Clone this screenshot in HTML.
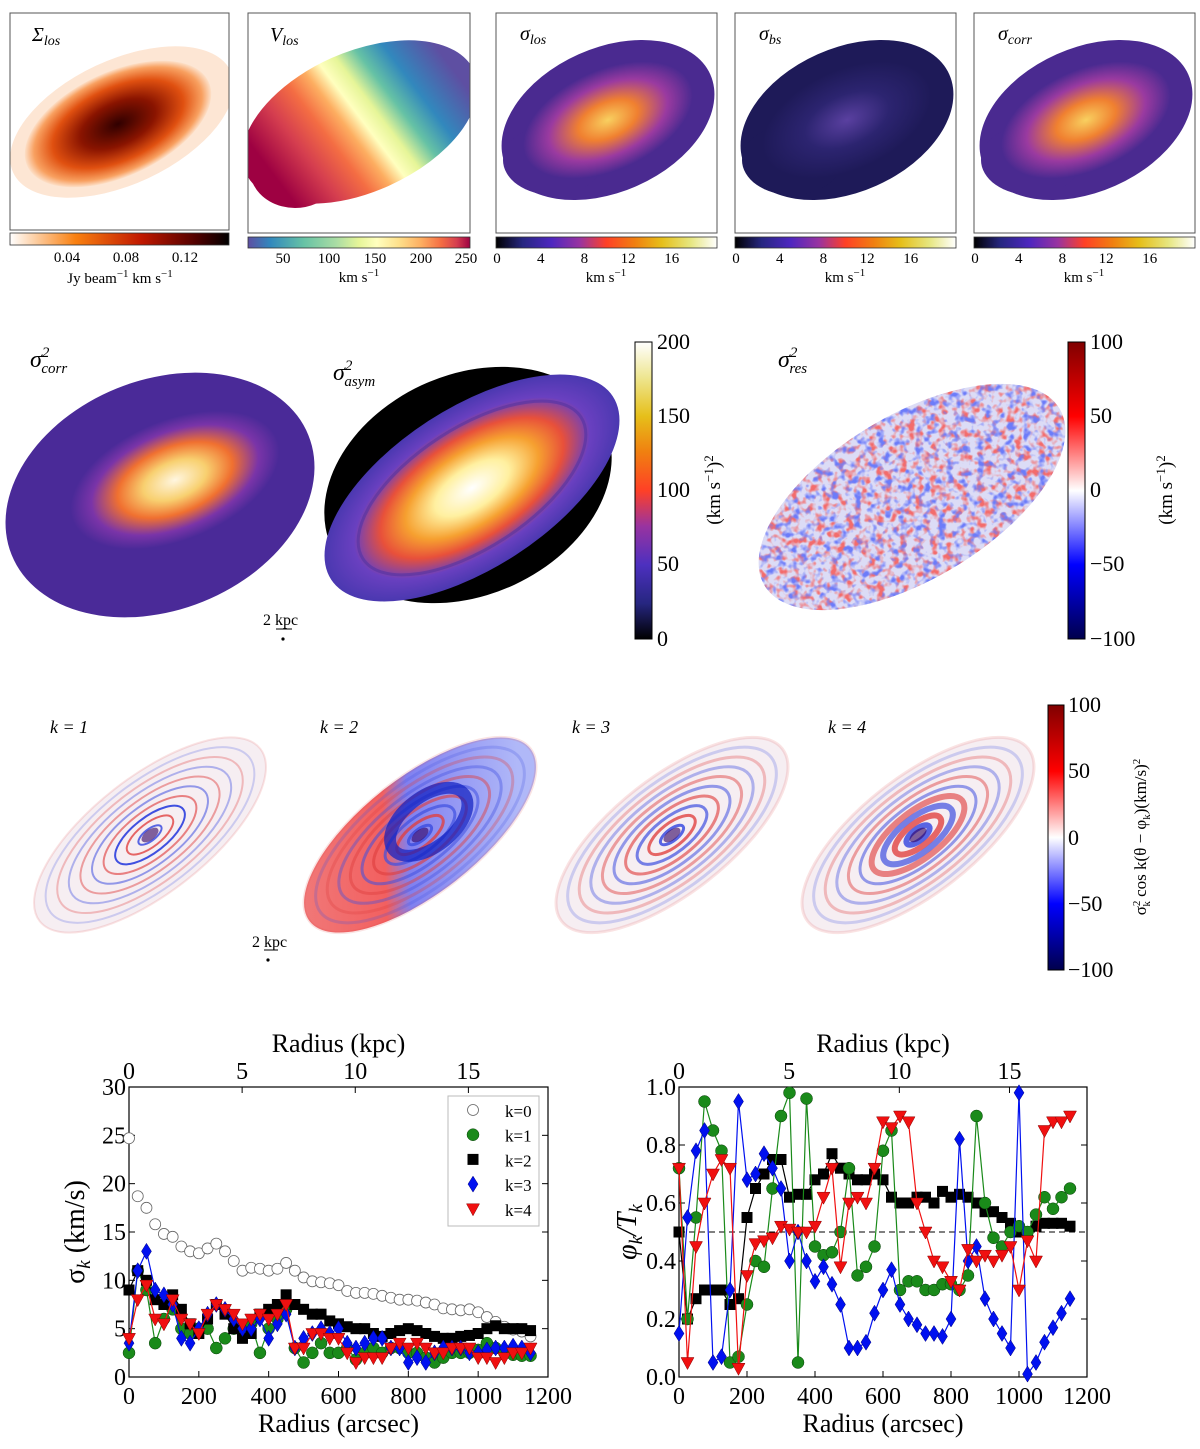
<!DOCTYPE html>
<html><head><meta charset="utf-8"><title>Velocity dispersion decomposition</title>
<style>
body{margin:0;background:#fff;}
svg{display:block;font-family:"Liberation Serif",serif;}
</style></head>
<body>
<svg id="fig" width="1200" height="1449" viewBox="0 0 1200 1449" xmlns="http://www.w3.org/2000/svg">
<defs>
<linearGradient id="gSig" x1="0" x2="1" y1="0" y2="0"><stop offset="0" stop-color="#fff"/><stop offset="0.3" stop-color="#f98010"/><stop offset="0.6" stop-color="#c01800"/><stop offset="0.85" stop-color="#500000"/><stop offset="1" stop-color="#000"/></linearGradient>
<linearGradient id="gSpec" x1="0" x2="1" y1="0" y2="0"><stop offset="0" stop-color="#5e4fa2"/><stop offset="0.1" stop-color="#3288bd"/><stop offset="0.25" stop-color="#66c2a5"/><stop offset="0.4" stop-color="#abdda4"/><stop offset="0.5" stop-color="#e6f598"/><stop offset="0.58" stop-color="#ffffbf"/><stop offset="0.68" stop-color="#fee08b"/><stop offset="0.78" stop-color="#fdae61"/><stop offset="0.87" stop-color="#f46d43"/><stop offset="0.94" stop-color="#d53e4f"/><stop offset="1" stop-color="#9e0142"/></linearGradient>
<linearGradient id="gCMR" x1="0" x2="1" y1="0" y2="0"><stop offset="0" stop-color="#000"/><stop offset="0.12" stop-color="#262680"/><stop offset="0.25" stop-color="#4d26bf"/><stop offset="0.38" stop-color="#9933a0"/><stop offset="0.5" stop-color="#ff4026"/><stop offset="0.63" stop-color="#f08010"/><stop offset="0.75" stop-color="#e6bf1a"/><stop offset="0.88" stop-color="#e6e680"/><stop offset="1" stop-color="#fff"/></linearGradient>
<linearGradient id="gCMRv" x1="0" x2="0" y1="1" y2="0"><stop offset="0" stop-color="#000"/><stop offset="0.12" stop-color="#262680"/><stop offset="0.25" stop-color="#4d30bf"/><stop offset="0.38" stop-color="#9933a0"/><stop offset="0.5" stop-color="#ff4026"/><stop offset="0.63" stop-color="#f08010"/><stop offset="0.75" stop-color="#e6bf1a"/><stop offset="0.88" stop-color="#eee690"/><stop offset="1" stop-color="#fff"/></linearGradient>
<linearGradient id="gSeis" x1="0" x2="0" y1="1" y2="0"><stop offset="0" stop-color="#00004c"/><stop offset="0.25" stop-color="#0000ff"/><stop offset="0.5" stop-color="#ffffff"/><stop offset="0.75" stop-color="#ff0000"/><stop offset="1" stop-color="#800000"/></linearGradient>
<linearGradient id="gVel" gradientUnits="userSpaceOnUse" x1="285" y1="190" x2="450" y2="65"><stop offset="0" stop-color="#9e0142"/><stop offset="0.18" stop-color="#d53e4f"/><stop offset="0.32" stop-color="#f46d43"/><stop offset="0.42" stop-color="#fdae61"/><stop offset="0.5" stop-color="#ffffbf"/><stop offset="0.58" stop-color="#e6f598"/><stop offset="0.68" stop-color="#66c2a5"/><stop offset="0.8" stop-color="#3288bd"/><stop offset="1" stop-color="#5e4fa2"/></linearGradient>
<radialGradient id="rSig"><stop offset="0" stop-color="#300000"/><stop offset="0.4" stop-color="#8a1400"/><stop offset="0.7" stop-color="#e05010"/><stop offset="0.9" stop-color="#f8a060"/><stop offset="1" stop-color="#fde0c8"/></radialGradient>
<radialGradient id="rLos"><stop offset="0" stop-color="#f8d060"/><stop offset="0.35" stop-color="#f08030"/><stop offset="0.7" stop-color="#9a3aa0"/><stop offset="1" stop-color="#4a2a90"/></radialGradient>
<radialGradient id="rBs"><stop offset="0" stop-color="#5a40a0"/><stop offset="0.5" stop-color="#2c2470"/><stop offset="1" stop-color="#1e1a58"/></radialGradient>
<radialGradient id="rCorr"><stop offset="0" stop-color="#fff6e0"/><stop offset="0.3" stop-color="#f8d070"/><stop offset="0.55" stop-color="#f07030"/><stop offset="0.8" stop-color="#7a34a8"/><stop offset="1" stop-color="#4a2a98"/></radialGradient>
<radialGradient id="rAsym"><stop offset="0" stop-color="#fff"/><stop offset="0.25" stop-color="#fff0a0"/><stop offset="0.45" stop-color="#f6a030"/><stop offset="0.62" stop-color="#e8503a"/><stop offset="0.8" stop-color="#6a40c0"/><stop offset="1" stop-color="#4a38b0"/></radialGradient>
<linearGradient id="gK2" x1="0" y1="0" x2="1" y2="0.3"><stop offset="0" stop-color="#f08080"/><stop offset="0.45" stop-color="#f26060"/><stop offset="0.55" stop-color="#8080f0"/><stop offset="1" stop-color="#b0b8f8"/></linearGradient>
<filter id="noiseR" x="0" y="0" width="100%" height="100%">
<feTurbulence type="fractalNoise" baseFrequency="0.13" numOctaves="2" seed="3" result="n"/>
<feColorMatrix in="n" type="matrix" values="0 0 0 0 0.9  0 0 0 0 0.15  0 0 0 0 0.15  4 0 0 0 -1.9"/>
</filter>
<filter id="noiseB" x="0" y="0" width="100%" height="100%">
<feTurbulence type="fractalNoise" baseFrequency="0.13" numOctaves="2" seed="11" result="n"/>
<feColorMatrix in="n" type="matrix" values="0 0 0 0 0.15  0 0 0 0 0.2  0 0 0 0 0.95  4 0 0 0 -2.0"/>
</filter>
<clipPath id="cRes"><ellipse cx="912" cy="497" rx="172" ry="82" transform="rotate(-31 912 497)"/></clipPath>
<clipPath id="cVel"><ellipse cx="360" cy="122" rx="125" ry="70" transform="rotate(-24 360 122)"/><ellipse cx="295" cy="170" rx="45" ry="38"/></clipPath>
<clipPath id="cP1"><rect x="10" y="13" width="219" height="217"/></clipPath>
<clipPath id="cP2"><rect x="248" y="13" width="222" height="220"/></clipPath>
</defs>

<!-- ROW 1 -->
<g>
<g clip-path="url(#cP1)">
<ellipse cx="122" cy="122" rx="120" ry="62" transform="rotate(-25 122 122)" fill="#fde6d4"/>
<ellipse cx="118" cy="124" rx="100" ry="52" transform="rotate(-25 118 124)" fill="url(#rSig)"/>
</g>
<rect x="10" y="13" width="219" height="217" fill="none" stroke="#555" stroke-width="1"/>
<text x="32" y="41" font-size="20" font-style="italic">Σ<tspan font-size="14" dy="4">los</tspan></text>
<rect x="10" y="233" width="219" height="12" fill="url(#gSig)" stroke="#333" stroke-width="0.8"/>
<g font-size="15" text-anchor="middle"><text x="67" y="262">0.04</text><text x="126" y="262">0.08</text><text x="185" y="262">0.12</text></g>
<text x="120" y="283" font-size="15" text-anchor="middle">Jy beam<tspan dy="-6" font-size="11">−1</tspan><tspan dy="6"> km s</tspan><tspan dy="-6" font-size="11">−1</tspan></text>
</g>

<g>
<g clip-path="url(#cP2)">
<rect x="230" y="20" width="260" height="220" fill="url(#gVel)" clip-path="url(#cVel)"/>
</g>
<rect x="248" y="13" width="222" height="220" fill="none" stroke="#555"/>
<text x="270" y="41" font-size="20" font-style="italic">V<tspan font-size="14" dy="4">los</tspan></text>
<rect x="248" y="237" width="222" height="11" fill="url(#gSpec)" stroke="#333" stroke-width="0.8"/>
<g font-size="15" text-anchor="middle"><text x="283" y="263">50</text><text x="329" y="263">100</text><text x="375" y="263">150</text><text x="421" y="263">200</text><text x="466" y="263">250</text></g>
<text x="359" y="282" font-size="15" text-anchor="middle">km s<tspan dy="-6" font-size="11">−1</tspan></text>
</g>

<g id="row1sig"></g>

<!-- ROW 2 -->
<g>
<ellipse cx="160" cy="495" rx="160" ry="115" transform="rotate(-22 160 495)" fill="#4a2a98"/>
<ellipse cx="175" cy="480" rx="110" ry="60" transform="rotate(-22 175 480)" fill="url(#rCorr)"/>
<text x="30" y="367" font-size="24" font-style="italic">σ<tspan font-size="15" dy="-10">2</tspan><tspan font-size="15" dy="16" dx="-8">corr</tspan></text>
</g>
<g>
<ellipse cx="468" cy="485" rx="150" ry="110" transform="rotate(-25 468 485)" fill="#000"/>
<ellipse cx="472" cy="488" rx="168" ry="80" transform="rotate(-33 472 488)" fill="url(#rAsym)"/>
<ellipse cx="472" cy="488" rx="130" ry="60" transform="rotate(-33 472 488)" fill="none" stroke="#4a30a0" stroke-width="3" opacity="0.5"/>
<text x="333" y="380" font-size="24" font-style="italic">σ<tspan font-size="15" dy="-10">2</tspan><tspan font-size="15" dy="16" dx="-8">asym</tspan></text>
</g>
<g>
<text x="263" y="625" font-size="16">2 kpc</text><line x1="276" y1="629" x2="292" y2="629" stroke="#000"/><circle cx="283" cy="639" r="1.6" fill="#000"/>
</g>
<g>
<rect x="635" y="342" width="17" height="297" fill="url(#gCMRv)" stroke="#000" stroke-width="1"/>
<g font-size="22"><text x="657" y="349">200</text><text x="657" y="423">150</text><text x="657" y="497">100</text><text x="657" y="571">50</text><text x="657" y="646">0</text></g>
<text transform="translate(720 490) rotate(-90)" font-size="19" text-anchor="middle">(km s<tspan dy="-7" font-size="13">−1</tspan><tspan dy="7">)</tspan><tspan dy="-7" font-size="13">2</tspan></text>
</g>
<g>
<g clip-path="url(#cRes)">
<rect x="730" y="370" width="360" height="260" fill="#dcdcf6"/>
<rect x="730" y="370" width="360" height="260" filter="url(#noiseR)"/>
<rect x="730" y="370" width="360" height="260" filter="url(#noiseB)"/>
</g>
<text x="778" y="367" font-size="24" font-style="italic">σ<tspan font-size="15" dy="-10">2</tspan><tspan font-size="15" dy="16" dx="-8">res</tspan></text>
</g>
<g>
<rect x="1068" y="342" width="17" height="297" fill="url(#gSeis)" stroke="#000" stroke-width="1"/>
<g font-size="22"><text x="1090" y="349">100</text><text x="1090" y="423">50</text><text x="1090" y="497">0</text><text x="1090" y="571">−50</text><text x="1090" y="646">−100</text></g>
<text transform="translate(1172 490) rotate(-90)" font-size="19" text-anchor="middle">(km s<tspan dy="-7" font-size="13">−1</tspan><tspan dy="7">)</tspan><tspan dy="-7" font-size="13">2</tspan></text>
</g>

<!-- ROW 3 -->
<g id="row3"></g>
<g>
<text x="252" y="947" font-size="16">2 kpc</text><line x1="264" y1="950" x2="278" y2="950" stroke="#000"/><circle cx="268" cy="960" r="1.6" fill="#000"/>
</g>
<g>
<rect x="1048" y="705" width="16" height="265" fill="url(#gSeis)" stroke="#000"/>
<g font-size="22"><text x="1068" y="712">100</text><text x="1068" y="778">50</text><text x="1068" y="845">0</text><text x="1068" y="911">−50</text><text x="1068" y="977">−100</text></g>
<text transform="translate(1146 837) rotate(-90)" font-size="17" text-anchor="middle">σ<tspan dy="-6" font-size="11">2</tspan><tspan dy="10" dx="-6" font-size="11">k</tspan><tspan dy="-4"> cos k(θ − φ</tspan><tspan dy="4" font-size="11">k</tspan><tspan dy="-4">)(km/s)</tspan><tspan dy="-6" font-size="11">2</tspan></text>
</g>

<!-- ROW 4 charts -->
<g id="chartL"></g>
<g id="chartR"></g>
</svg>

<script>
// Data for line charts (radius in arcsec)
const radius = [0,25,50,75,100,125,150,175,200,225,250,275,300,325,350,375,400,425,450,475,500,525,550,575,600,625,650,675,700,725,750,775,800,825,850,875,900,925,950,975,1000,1025,1050,1075,1100,1125,1150];
const sigK0 = [24.7,18.7,17.5,15.8,14.8,14.5,13.5,13,12.8,13.3,13.8,13,12,11,11.3,11.2,11,11.2,11.8,11,10.3,9.9,9.8,9.7,9.5,8.9,8.7,8.7,8.6,8.4,8.2,8,8,7.9,7.7,7.5,7.1,7,6.9,7,6.7,6.2,5.7,5.2,4.9,4.7,4.2];
const sigK1 = [2.5,11,9,3.5,6,7,5,4.5,5,5,3,4,5,5,5.5,2.5,5,6,7,3,1.5,2.5,3.5,2.5,2.5,3,1.8,2.5,3,2.5,3,3,2.5,2.5,2,1.5,2,2.5,2.5,2.5,2.8,3.5,3,2.5,2.3,2.2,2.2];
const sigK2 = [9,11,10,8,7.5,8.5,7,5.5,4.5,6,7.5,6.5,5,4,4.5,6.5,7,7.5,8.5,7.5,7,6.5,6.5,5.8,5.5,5.2,5,5,4.5,4.2,4.5,4.8,5,4.8,4.5,4.2,4,4,4.2,4.3,4.5,5,5.3,5,5,5,4.8];
const sigK3 = [3.5,11,13,9,8.5,7.5,4,3.5,5,6.5,7.5,7,6,5,5,6,4,5.5,6.5,3,4,4.5,5,4.5,5,3.5,3,3.5,4,4,3,3,1.5,2,1.5,2.5,3,3,3,2.5,2.5,2.8,3,3,3.2,3,2.5];
const sigK4 = [4,8,9.5,6,5.5,8,6,5.5,4.5,6.5,7.5,7,6.5,5.5,6,6.5,6,6.5,7.5,3,3,4.5,4.5,4,4,2.5,1.5,2,2,2,3,3.5,3,3.5,3,2.5,2.5,3,3,3,2,2,1.5,2,2.5,2.5,3];
const phK1 = [0.72,0.2,0.55,0.95,0.85,0.78,0.05,0.07,0.25,0.4,0.38,0.65,0.9,0.98,0.05,0.96,0.45,0.42,0.43,0.5,0.72,0.35,0.38,0.45,0.78,0.85,0.3,0.33,0.33,0.3,0.3,0.32,0.32,0.3,0.35,0.9,0.6,0.48,0.45,0.5,0.52,0.5,0.56,0.62,0.58,0.62,0.65];
const phK2 = [0.5,0.2,0.27,0.3,0.3,0.3,0.25,0.27,0.55,0.65,0.7,0.75,0.75,0.62,0.63,0.63,0.68,0.7,0.77,0.72,0.7,0.68,0.68,0.7,0.68,0.62,0.6,0.6,0.62,0.62,0.6,0.64,0.62,0.63,0.62,0.6,0.57,0.57,0.55,0.53,0.5,0.5,0.52,0.53,0.53,0.53,0.52];
const phK3 = [0.15,0.55,0.78,0.85,0.05,0.07,0.3,0.95,0.68,0.7,0.77,0.72,0.65,0.4,0.5,0.4,0.33,0.38,0.32,0.25,0.1,0.1,0.12,0.22,0.3,0.37,0.25,0.2,0.18,0.15,0.15,0.14,0.2,0.82,0.4,0.45,0.27,0.2,0.15,0.1,0.98,0.01,0.05,0.12,0.17,0.22,0.27];
const phK4 = [0.72,0.05,0.45,0.6,0.7,0.75,0.72,0.03,0.35,0.46,0.47,0.48,0.52,0.51,0.5,0.5,0.52,0.62,0.72,0.38,0.6,0.62,0.6,0.72,0.88,0.86,0.9,0.88,0.6,0.5,0.4,0.38,0.33,0.3,0.44,0.4,0.42,0.4,0.42,0.45,0.3,0.47,0.4,0.85,0.88,0.88,0.9];
const xTicks = [0,200,400,600,800,1000,1200];
const kpcTicks = [0,5,10,15];
const yTicksL = [0,5,10,15,20,25,30];
const yTicksR = [0,0.2,0.4,0.6,0.8,1.0];
const legendLabels = ['k=0','k=1','k=2','k=3','k=4'];
const arcsecPerKpc = 64.8;

const NS = 'http://www.w3.org/2000/svg';
function mk(tag, attrs, parent){const e=document.createElementNS(NS,tag);for(const k in attrs)e.setAttribute(k,attrs[k]);if(parent)parent.appendChild(e);return e;}

// Row 1 sigma panels
(function(){
  const g=document.getElementById('row1sig');
  const panels=[{x:496,lab:'los',fill:'url(#rLos)',name:'sigma-los-map'},{x:735,lab:'bs',fill:'url(#rBs)',name:'sigma-bs-map'},{x:974,lab:'corr',fill:'url(#rLos)',name:'sigma-corr-map'}];
  panels.forEach(p=>{
    const pg=mk('g',{},g);
    
    
    const cx=p.x+112, cy=120;
    const base=p.lab==='bs'?'#1e1a58':'#4a2a90';
    mk('ellipse',{cx:cx,cy:cy,rx:112,ry:72,transform:`rotate(-24 ${cx} ${cy})`,fill:base},pg);
    mk('ellipse',{cx:cx-55,cy:cy+40,rx:50,ry:35,fill:base},pg);
    mk('ellipse',{cx:cx,cy:cy,rx:90,ry:50,transform:`rotate(-24 ${cx} ${cy})`,fill:p.fill},pg);
    mk('rect',{x:p.x,y:13,width:221,height:220,fill:'none',stroke:'#555'},pg);
    const t=mk('text',{x:p.x+24,y:40,'font-size':20,'font-style':'italic'},pg);t.textContent='σ';
    const ts=mk('tspan',{'font-size':14,dy:4},t);ts.textContent=p.lab;
    const cb=mk('rect',{x:p.x,y:237,width:221,height:11,fill:'url(#gCMR)',stroke:'#333','stroke-width':0.8},pg);
    
    
    [0,4,8,12,16].forEach((v,i)=>{const tt=mk('text',{x:p.x+1+i*43.7,y:263,'font-size':15,'text-anchor':'middle'},pg);tt.textContent=v;});
    const u=mk('text',{x:p.x+110,y:282,'font-size':15,'text-anchor':'middle'},pg);u.textContent='km s';
    const us=mk('tspan',{dy:-6,'font-size':11},u);us.textContent='−1';
  });
})();

// Row 3 k maps
(function(){
  const g=document.getElementById('row3');
  const cs=[150,420,672,918];
  cs.forEach((cx,i)=>{
    const cy=835;
    const pg=mk('g',{},g);
    
    
    const tr=`rotate(-38 ${cx} ${cy})`;
    mk('ellipse',{cx:cx,cy:cy,rx:140,ry:58,transform:tr,fill:i===1?'url(#gK2)':'#f6eef2'},pg);
    const n=10;
    for(let r=1;r<=n;r++){
      const f=r/n;
      let col=(r%2===0)?'#e04040':'#4050e0';
      let op=(1-f)*0.8+0.15;
      if(i===0&&r===3)op=1;
      mk('ellipse',{cx:cx,cy:cy,rx:140*f,ry:58*f,transform:tr,fill:'none',stroke:col,'stroke-width':i===0?2:(i===3&&r<5?6:3),opacity:op},pg);
    }
    if(i===1){
      mk('ellipse',{cx:cx+15,cy:cy-5,rx:45,ry:25,transform:tr,fill:'none',stroke:'#1020c0','stroke-width':12,opacity:0.7},pg);
    }
    mk('ellipse',{cx:cx,cy:cy,rx:10,ry:5,transform:tr,fill:'#300060',opacity:0.6},pg);
    const t=mk('text',{x:cx-100+(i===3?10:0),y:733,'font-size':18,'font-style':'italic'},pg);t.textContent='k = '+(i+1);
  });
})();

function drawChart(gid, x0, x1, y0, y1, ymax, yTicks, yFmt, series, opts){
  const g=document.getElementById(gid);
  const xs=v=>x0+(v/1200)*(x1-x0);
  const ys=v=>y1-(v/ymax)*(y1-y0);
  mk('rect',{x:x0,y:y0,width:x1-x0,height:y1-y0,fill:'#fff',stroke:'#000','stroke-width':1.2},g);
  xTicks.forEach(v=>{
    mk('line',{x1:xs(v),x2:xs(v),y1:y1,y2:y1-6,stroke:'#000'},g);
    const t=mk('text',{x:xs(v),y:y1+27,'font-size':24,'text-anchor':'middle'},g);t.textContent=v;
  });
  kpcTicks.forEach(v=>{
    mk('line',{x1:xs(v*arcsecPerKpc),x2:xs(v*arcsecPerKpc),y1:y0,y2:y0+6,stroke:'#000'},g);
    const t=mk('text',{x:xs(v*arcsecPerKpc),y:y0-8,'font-size':24,'text-anchor':'middle'},g);t.textContent=v;
  });
  yTicks.forEach(v=>{
    mk('line',{x1:x0,x2:x0+6,y1:ys(v),y2:ys(v),stroke:'#000'},g);
    mk('line',{x1:x1,x2:x1-6,y1:ys(v),y2:ys(v),stroke:'#000'},g);
    const t=mk('text',{x:x0-3,y:ys(v)+8,'font-size':24,'text-anchor':'end'},g);t.textContent=yFmt(v);
  });
  const xl=mk('text',{x:(x0+x1)/2,y:y1+55,'font-size':26,'text-anchor':'middle'},g);xl.textContent='Radius (arcsec)';
  
  
  const tl=mk('text',{x:(x0+x1)/2,y:y0-35,'font-size':26,'text-anchor':'middle'},g);tl.textContent='Radius (kpc)';
  
  
  if(opts.dash){mk('line',{x1:x0,x2:x1,y1:ys(0.5),y2:ys(0.5),stroke:'#000','stroke-dasharray':'6,4'},g);}
  series.forEach(s=>{
    const sg=mk('g',{},g);
    
    
    if(s.line){
      const d=radius.map((r,i)=>(i?'L':'M')+xs(r).toFixed(1)+','+ys(s.data[i]).toFixed(1)).join(' ');
      mk('path',{d:d,fill:'none',stroke:s.color,'stroke-width':1.2},sg);
    }
    radius.forEach((r,i)=>{ marker(sg,s.shape,xs(r),ys(s.data[i]),s.color); });
  });
  return {xs,ys,g};
}
function marker(g,shape,x,y,c){
  let m;
  if(shape==='o'){m=mk('circle',{cx:x,cy:y,r:5.5,fill:'#fff',stroke:'#666','stroke-width':0.8},g);}
  else if(shape==='c'){m=mk('circle',{cx:x,cy:y,r:6,fill:c,stroke:'#0a400a','stroke-width':0.5},g);}
  else if(shape==='s'){m=mk('rect',{x:x-5.5,y:y-5.5,width:11,height:11,fill:c},g);}
  else if(shape==='d'){m=mk('path',{d:`M${x},${y-8}L${x+5},${y}L${x},${y+8}L${x-5},${y}Z`,fill:c,stroke:'#000080','stroke-width':0.5},g);}
  else if(shape==='v'){m=mk('path',{d:`M${x-6.5},${y-5}L${x+6.5},${y-5}L${x},${y+7}Z`,fill:c,stroke:'#800','stroke-width':0.5},g);}
  
  
  return m;
}

const L=drawChart('chartL',129,548,1087,1377,30,yTicksL,v=>v,[
  {name:'k0',data:sigK0,shape:'o',color:'#fff',line:false},
  {name:'k1',data:sigK1,shape:'c',color:'#1a8a1a',line:true},
  {name:'k2',data:sigK2,shape:'s',color:'#000',line:true},
  {name:'k3',data:sigK3,shape:'d',color:'#0010f0',line:true},
  {name:'k4',data:sigK4,shape:'v',color:'#f01010',line:true}
],{});
(function(){
  const yl=mk('text',{transform:'translate(84 1232) rotate(-90)','font-size':28,'text-anchor':'middle'},L.g);
  yl.textContent='σ';
  const s=mk('tspan',{'font-size':19,dy:6,'font-style':'italic'},yl);s.textContent='k';
  const s2=mk('tspan',{dy:-6},yl);s2.textContent=' (km/s)';
  
  
  const lg=mk('g',{},L.g);
  
  
  mk('rect',{x:448,y:1096,width:91,height:130,fill:'#fff',stroke:'#bbb'},lg);
  const shapes=['o','c','s','d','v'], cols=['#fff','#1a8a1a','#000','#0010f0','#f01010'];
  legendLabels.forEach((lab,i)=>{
    const e=mk('g',{},lg);
    
    
    marker(e,shapes[i],473,1110+i*24.7,cols[i]);
    const t=mk('text',{x:505,y:1117+i*24.7,'font-size':17},e);t.textContent=lab;
  });
})();

const R=drawChart('chartR',679,1087,1087,1377,1,yTicksR,v=>v.toFixed(1),[
  {name:'k2',data:phK2,shape:'s',color:'#000',line:true},
  {name:'k1',data:phK1,shape:'c',color:'#1a8a1a',line:true},
  {name:'k3',data:phK3,shape:'d',color:'#0010f0',line:true},
  {name:'k4',data:phK4,shape:'v',color:'#f01010',line:true}
],{dash:true});
(function(){
  const yl=mk('text',{transform:'translate(636 1232) rotate(-90)','font-size':28,'text-anchor':'middle','font-style':'italic'},R.g);
  yl.textContent='φ';
  const a=mk('tspan',{'font-size':19,dy:6},yl);a.textContent='k';
  const b=mk('tspan',{dy:-6},yl);b.textContent='/T';
  const c=mk('tspan',{'font-size':19,dy:6},yl);c.textContent='k';
  
  
})();
</script>
</body></html>
